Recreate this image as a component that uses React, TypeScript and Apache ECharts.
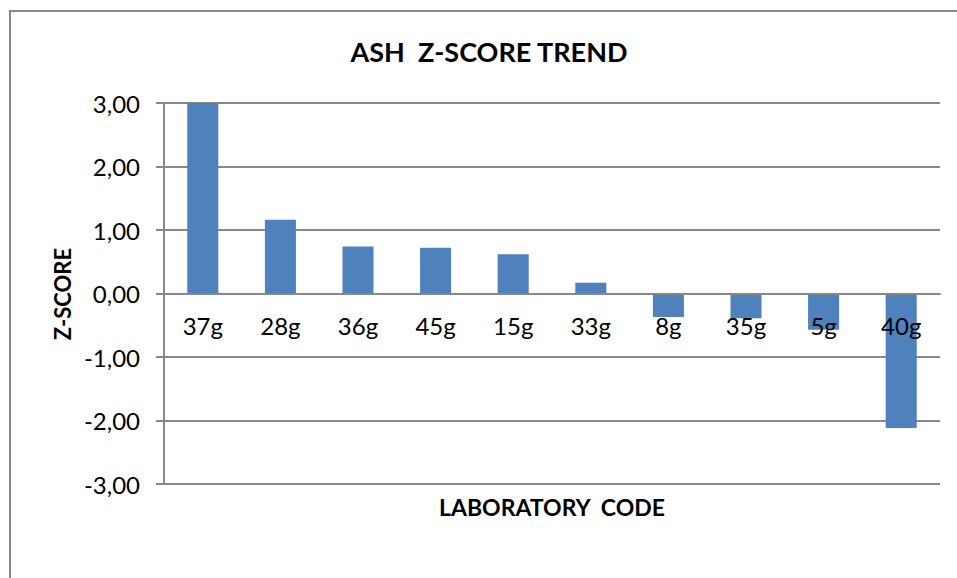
import React, { useEffect, useRef } from "react";
import * as echarts from "echarts";

const categories = ["37g", "28g", "36g", "45g", "15g", "33g", "8g", "35g", "5g", "40g"];
const zScores = [3.0, 1.16, 0.74, 0.72, 0.62, 0.17, -0.37, -0.39, -0.57, -2.12];
const yTicks = { min: -3, max: 3, interval: 1 };

const FONT = "Lato, 'Open Sans', sans-serif";
const W = 957;
const H = 578;
const GRID = { left: 164, right: 17, top: 103, bottom: 94 };

export default function App() {
  const ref = useRef<HTMLDivElement>(null);
  useEffect(() => {
    if (!ref.current) return;
    const chart = echarts.init(ref.current, undefined, { renderer: "svg" });
    const gridH = H - GRID.top - GRID.bottom;
    const zeroOffset = -(gridH * (0 - yTicks.min)) / (yTicks.max - yTicks.min);
    chart.setOption({
      animation: false,
      backgroundColor: "#ffffff",
      textStyle: { fontFamily: FONT },
      title: {
        text: "ASH  Z-SCORE TREND",
        left: 484,
        top: 33,
        textAlign: "center",
        textStyle: { fontFamily: FONT, fontSize: 27, fontWeight: "bold", color: "#000" },
      },
      graphic: [
        {
          type: "rect",
          shape: { x: 10, y: 11, width: 1000, height: 700 },
          style: { fill: "none", stroke: "#888888", lineWidth: 2 },
          silent: true,
        },
        {
          type: "text",
          x: 62,
          y: 294,
          rotation: Math.PI / 2,
          style: {
            text: "Z-SCORE",
            fontFamily: FONT,
            fontSize: 22,
            fontWeight: "bold",
            fill: "#000",
            align: "center",
            verticalAlign: "middle",
          },
        },
        {
          type: "text",
          x: 552,
          y: 507,
          style: {
            text: "LABORATORY  CODE",
            fontFamily: FONT,
            fontSize: 23,
            fontWeight: "bold",
            fill: "#000",
            align: "center",
            verticalAlign: "middle",
          },
        },
      ],
      grid: { ...GRID, containLabel: false },
      xAxis: {
        type: "category",
        data: categories,
        offset: zeroOffset,
        axisLine: { onZero: false, lineStyle: { color: "#888888", width: 2 } },
        axisTick: { show: false },
        axisLabel: { fontFamily: FONT, fontSize: 24, color: "#000", margin: 20 },
        z: 10,
      },
      yAxis: {
        type: "value",
        min: yTicks.min,
        max: yTicks.max,
        interval: yTicks.interval,
        axisLine: { show: true, lineStyle: { color: "#888888", width: 2 } },
        axisTick: { show: true, length: 8, lineStyle: { color: "#888888", width: 2 } },
        splitLine: { show: true, lineStyle: { color: "#888888", width: 2 } },
        axisLabel: {
          fontFamily: FONT,
          fontSize: 24,
          color: "#000",
          margin: 24,
          formatter: (v: number) => v.toFixed(2).replace(".", ","),
        },
      },
      series: [
        {
          type: "bar",
          data: zScores,
          barWidth: "40%",
          itemStyle: { color: "#4F81BD" },
          z: 2,
        },
      ],
    });
    return () => chart.dispose();
  }, []);
  return (
    <div
      ref={ref}
      style={{ position: "fixed", left: 0, top: 0, width: W, height: H }}
    />
  );
}
